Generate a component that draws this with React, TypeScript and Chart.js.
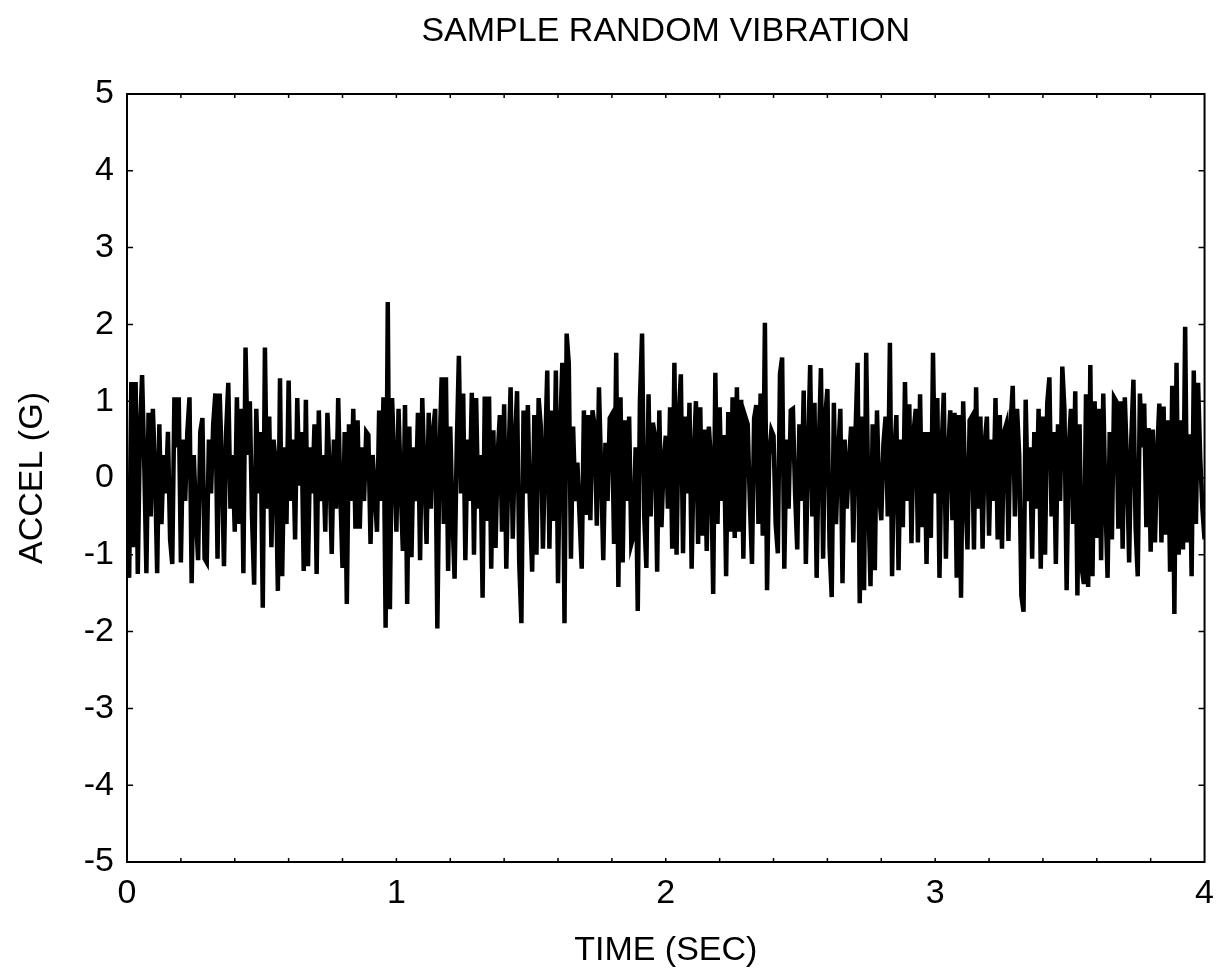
import React, { useEffect, useRef } from "react";
import { Chart, registerables } from "chart.js";

Chart.register(...registerables);

const TITLE = "SAMPLE RANDOM VIBRATION";
const X_TITLE = "TIME (SEC)";
const Y_TITLE = "ACCEL (G)";
const DURATION_SEC = 4;
const X_MAJOR_TICKS = [0, 1, 2, 3, 4];
const X_MINOR_STEP = 0.2;
const Y_TICKS = [-5, -4, -3, -2, -1, 0, 1, 2, 3, 4, 5];

// Acceleration samples (G), evenly spaced over 0..4 s
const ACCEL_G = [
  0.0, -1.3, 1.25, -0.9, 1.25, -1.25, 0.6, 1.34, 0.2, -1.24,
  0.85, -0.5, 0.9, 0.1, -1.24, 0.7, -0.6, 0.3, -0.2, 0.6,
  -0.8, -1.12, 1.05, 0.4, 1.05, -1.1, 0.5, -0.3, 0.6, 1.05,
  -1.37, 0.3, -0.5, -1.07, 0.6, 0.78, -1.05, -1.1, 0.5, -0.2,
  0.7, 1.1, -1.05, 1.1, 0.2, -1.15, 0.6, 1.24, -0.4, 0.3,
  -0.7, 1.05, -0.6, 0.9, -1.24, 1.7,
  0.3, 1.0, -0.5, -1.39, 0.9, -0.2, 0.6, -1.69, 1.7, -0.4,
  0.8, -0.9, 0.5, 0.2, -1.47, 1.3, -1.28, 0.4, -0.6, 1.27,
  -0.3, 0.5, -0.8, 1.04, -0.1, 0.6, -1.21, 1.02, -1.15, 0.4,
  -0.2, 0.7, -1.25, 0.88, -0.3, 0.3, -0.7, 0.85, 0.1, -0.99,
  0.5, -0.4, 1.04, -0.2, -1.17, 0.6, -1.64, 0.7, -0.3, 0.9,
  -0.66, 0.75, -0.66, 0.4, -0.3, 0.6,
  0.56, -0.86, 0.3, -0.2, -0.7, 0.88, -0.3, 1.05, -1.95, 2.29,
  -1.71, 1.04, 0.2, -0.7, 0.9, -0.1, -0.95, 0.95, -1.64, 0.67,
  -1.03, 0.4, -0.3, 0.85, -1.07, 1.04, 0.1, -0.86, 0.85, -0.4,
  0.6, 0.9, -1.96, 0.3, 1.31, -0.6, 1.31, -1.21, 0.67, -0.5,
  -1.31, 0.4, 1.59, -0.2, 1.1, -1.07, 0.5, -0.3, 1.11, -1.0,
  1.04, -0.4, 0.3, -1.56, 1.06,
  -0.56, 1.06, -1.18, 0.62, -0.91, 0.3, 0.82, -0.7, 0.96, -1.18,
  0.2, 1.18, -0.79, 0.45, 1.13, -1.1, -1.89, 0.88, -0.2, 0.95,
  -0.4, -1.22, 0.82, -1.0, 1.04, 0.68, -0.92, 0.3, 1.4, -0.92,
  0.88, -0.56, 1.4, -1.37, 0.6, 1.5, -1.89, 1.88, 1.49, -1.05,
  0.67, -0.3, 0.2, -0.5, -1.18, 0.88, -0.48, 0.82, -0.55, 0.88,
  0.67, -0.62, 1.18, 0.1, -1.07,
  0.46, -0.3, 0.78, 0.83, -0.86, 1.63, -1.42, 1.05, -1.1, 0.75,
  -0.3, 0.8, -0.86, -0.75, 0.4, -1.73, 1.0, 1.88, -0.5, -1.17,
  1.09, -0.5, 0.72, 0.55, -1.22, 0.88, -0.64, 0.2, 0.55, -0.4,
  0.92, -0.92, 1.5, -1.0, 0.8, 1.35, -0.98, 0.8, -0.2, 0.98,
  -1.18, 0.3, 1.0, -0.86, 0.92, -0.75, 0.63, -0.95, 0.67, 0.2,
  -1.51, 1.37, -0.6, 0.92, -0.3, 0.56,
  -1.28, 0.86, -0.7, 1.05, -0.78, 1.18, -0.7, 1.02, -1.05, 0.79,
  0.7, -0.3, -1.12, 0.78, 0.95, -0.6, 1.1, -0.75, 2.02, -1.46,
  0.3, 0.62, 0.55, -0.6, -0.98, 1.36, 1.57, -1.18, 0.5, -0.4,
  0.88, 0.9, -0.2, -0.93, 0.7, -0.3, 1.14, -1.12, 0.3, 1.47,
  -0.5, 0.98, -1.3, 0.4, 1.43, -1.05, 0.8, 1.16, -0.9, -1.55,
  0.98, -0.6, 0.3, 0.9, -1.37,
  0.5, -0.4, 0.2, 0.67, -0.84, 0.55, 1.5, -1.63, 0.8, -1.46,
  1.63, -0.3, -1.41, 0.7, -1.2, 0.88, -0.2, -0.55, 0.45, 0.8,
  -0.5, 1.76, -1.28, 0.3, 0.82, -1.2, 0.5, -0.64, 1.25, -0.3,
  0.96, -0.85, 0.6, 0.9, -0.84, 1.09, -0.64, 0.6, -1.12, 0.6,
  -0.78, 1.63, -0.2, 1.04, -1.3, 0.4, 1.11, -1.05, 0.3, 0.88,
  -0.55, 0.85, -1.3, 0.82, -1.56,
  1.0, -0.2, -0.93, 0.75, 0.8, -0.93, 1.18, -0.4, 0.8, -0.92,
  0.45, 0.8, -0.75, 0.5, -0.3, 1.04, -0.8, 0.82, -0.92, 0.6,
  0.7, -0.82, 0.7, 1.2, -0.5, 0.9, 0.3, -1.53, -1.74, 1.02,
  -0.3, 0.4, -1.05, 0.6, -0.4, 0.9, -1.18, 0.8, -1.0, 0.97,
  1.31, -0.5, 0.6, -1.12, 0.7, -0.3, 1.45, 0.88, -1.46, 0.4,
  0.9, -0.6, 1.13, -1.53, 0.7, -1.17,
  -1.38, 1.09, -1.42, 1.47, -1.28, 1.0, -0.78, 0.9, -1.07, 1.1,
  -0.3, -1.3, 0.6, -0.8, 1.05, 1.0, -0.66, 1.0, -0.92, 1.05,
  0.2, -1.1, 0.5, 1.28, -0.64, -1.28, 1.1, 0.4, 0.97, -0.64,
  0.65, -0.96, 0.63, -0.84, 0.3, 0.97, -0.84, 0.93, -0.74, 0.75,
  -1.22, 1.2, -1.77, 1.5, -1.0, 0.75, -0.93, 1.97, -0.84, 0.57,
  -1.28, 1.4, -0.6, 1.24, 0.26, -0.4, -0.8,
];

// sample times (s): uniform grid spanning the record
const TIME_SEC = ACCEL_G.map((_, i) => (i * DURATION_SEC) / (ACCEL_G.length - 1));

const FONT_FAMILY = "'Liberation Sans', Arial, Helvetica, sans-serif";
const FONT_SIZE = 34;

const frameTicksPlugin = {
  id: "frameTicks",
  afterDatasetsDraw(chart: any) {
    const { ctx, chartArea } = chart;
    const { left, right, top, bottom } = chartArea;
    const xs = chart.scales.x;
    const ys = chart.scales.y;
    ctx.save();
    ctx.strokeStyle = "#000";
    ctx.lineCap = "butt";
    ctx.lineWidth = 1.5;
    const nMinor = Math.round((xs.max - xs.min) / X_MINOR_STEP);
    ctx.beginPath();
    for (let k = 1; k < nMinor; k++) {
      const px = xs.getPixelForValue(xs.min + k * X_MINOR_STEP);
      ctx.moveTo(px, bottom);
      ctx.lineTo(px, bottom - 4);
      ctx.moveTo(px, top);
      ctx.lineTo(px, top + 4);
    }
    for (const v of Y_TICKS) {
      if (v === ys.min || v === ys.max) continue;
      const py = ys.getPixelForValue(v);
      ctx.moveTo(left, py);
      ctx.lineTo(left + 6, py);
      ctx.moveTo(right, py);
      ctx.lineTo(right - 6, py);
    }
    ctx.stroke();
    ctx.lineWidth = 2;
    ctx.strokeRect(left, top, right - left, bottom - top);
    ctx.fillStyle = "#000";
    ctx.font = `normal ${FONT_SIZE}px ${FONT_FAMILY}`;
    ctx.textAlign = "center";
    ctx.textBaseline = "middle";
    ctx.fillText(TITLE, (left + right) / 2, 32);
    ctx.restore();
  },
};

export default function App() {
  const canvasRef = useRef<HTMLCanvasElement | null>(null);

  useEffect(() => {
    if (!canvasRef.current) return;
    const font = { family: FONT_FAMILY, size: FONT_SIZE, weight: "normal" as const };
    const chart = new Chart(canvasRef.current, {
      type: "line",
      data: {
        datasets: [
          {
            label: "Accel",
            data: ACCEL_G.map((v, i) => ({ x: TIME_SEC[i], y: v })),
            borderColor: "#000",
            borderWidth: 4.5,
            borderJoinStyle: "miter",
            pointRadius: 0,
            tension: 0,
            fill: false,
          },
        ],
      },
      options: {
        animation: false,
        responsive: false,
        devicePixelRatio: 1,
        parsing: false as any,
        normalized: true,
        layout: { padding: { top: 94, right: 20, bottom: 0, left: 0 } },
        plugins: {
          legend: { display: false },
          tooltip: { enabled: false },
          title: { display: false },
        },
        scales: {
          x: {
            type: "linear",
            min: 0,
            max: DURATION_SEC,
            afterFit: (s: any) => {
              s.height = 116;
            },
            afterBuildTicks: (s: any) => {
              s.ticks = X_MAJOR_TICKS.map((v) => ({ value: v }));
            },
            grid: { display: false, drawTicks: false },
            border: { display: false },
            ticks: { color: "#000", font, padding: 11, maxRotation: 0, autoSkip: false },
            title: {
              display: true,
              text: X_TITLE,
              color: "#000",
              font,
              padding: { top: 0, bottom: 7 },
            },
          },
          y: {
            type: "linear",
            min: -5,
            max: 5,
            afterFit: (s: any) => {
              s.width = 127;
            },
            afterBuildTicks: (s: any) => {
              s.ticks = Y_TICKS.map((v) => ({ value: v }));
            },
            grid: { display: false, drawTicks: false },
            border: { display: false },
            ticks: { color: "#000", font, padding: 13, autoSkip: false },
            title: {
              display: true,
              text: Y_TITLE,
              color: "#000",
              font,
              padding: { top: 12, bottom: 0 },
            },
          },
        },
      },
      plugins: [frameTicksPlugin],
    });
    return () => chart.destroy();
  }, []);

  return (
    <div style={{ position: "fixed", left: 0, top: 0, width: 1225, height: 978, background: "#fff" }}>
      <canvas ref={canvasRef} width={1225} height={978} style={{ display: "block" }} />
    </div>
  );
}
